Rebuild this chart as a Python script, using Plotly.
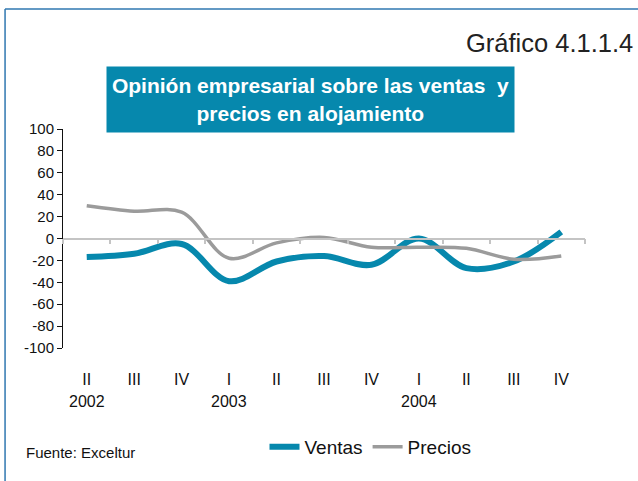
import plotly.graph_objects as go

quarters = ["II", "III", "IV", "I", "II", "III", "IV", "I", "II", "III", "IV"]
years = ["2002", "", "", "2003", "", "", "", "2004", "", "", ""]
ventas = [-17, -14, -5, -39, -21, -16, -24, 0, -27, -21, 6]
precios = [30, 25, 24, -18, -4, 1, -8, -8, -9, -19, -16]
y_ticks = [-100, -80, -60, -40, -20, 0, 20, 40, 60, 80, 100]

idx = list(range(len(quarters)))
bounds = [i - 0.5 for i in range(len(quarters) + 1)]
FONT = "Liberation Sans, Arial, Helvetica, sans-serif"

fig = go.Figure()
fig.add_trace(go.Scatter(x=idx, y=ventas, name="Ventas", mode="lines",
                         line=dict(color="#0688ad", width=6, shape="spline", smoothing=1.0)))
fig.add_trace(go.Scatter(x=idx, y=precios, name="Precios", mode="lines",
                         line=dict(color="#9b9b9b", width=3.5, shape="spline", smoothing=1.0)))
# invisible trace to anchor the zero-axis
fig.add_trace(go.Scatter(x=[bounds[0], bounds[-1]], y=[0, 0], xaxis="x2", mode="lines",
                         line=dict(width=0), showlegend=False, hoverinfo="skip"))

annotations = []
for i, yr in enumerate(years):
    if yr:
        annotations.append(dict(x=i, y=-0.245, xref="x", yref="paper", text=yr, showarrow=False,
                                font=dict(family=FONT, size=16, color="#111"), yanchor="middle"))
annotations.append(dict(x=1.096, y=1.393, xref="paper", yref="paper", text="Gráfico 4.1.1.4",
                        showarrow=False, xanchor="right", yanchor="middle",
                        font=dict(family=FONT, size=25.5, color="#222")))
annotations.append(dict(x=0.474, y=1.135, xref="paper", yref="paper",
                        text="<b>Opinión empresarial sobre las ventas  y<br>precios en alojamiento</b>",
                        showarrow=False, xanchor="center", yanchor="middle",
                        width=407, height=65, borderpad=0, bgcolor="#0688ad",
                        font=dict(family=FONT, size=21, color="white")))
annotations.append(dict(x=-0.075, y=-0.475, xref="paper", yref="paper", text="Fuente: Exceltur",
                        showarrow=False, xanchor="left", yanchor="middle",
                        font=dict(family=FONT, size=15, color="#111")))

shapes = [
    dict(type="line", xref="paper", yref="paper", x0=-0.111, x1=1.2, y0=1.548, y1=1.548,
         line=dict(color="#2f77b0", width=1.5)),
    dict(type="line", xref="paper", yref="paper", x0=-0.111, x1=-0.111, y0=1.548, y1=-0.7,
         line=dict(color="#2f77b0", width=1.5)),
]

fig.update_layout(
    width=638, height=481,
    margin=dict(l=63, r=53, t=129, b=133),
    paper_bgcolor="white", plot_bgcolor="white",
    font=dict(family=FONT, color="#111"),
    showlegend=True,
    legend=dict(orientation="h", x=0.386, y=-0.452, xanchor="left", yanchor="middle",
                font=dict(family=FONT, size=19, color="#111"), bgcolor="rgba(0,0,0,0)"),
    xaxis=dict(range=[bounds[0], bounds[-1]], tickvals=idx, ticktext=quarters,
               showline=False, ticks="", showgrid=False, zeroline=False,
               ticklabelstandoff=20, tickfont=dict(family=FONT, size=16, color="#111")),
    xaxis2=dict(range=[bounds[0], bounds[-1]], overlaying="x", anchor="free", position=0.5,
                side="bottom", tickvals=bounds, ticks="outside", ticklen=5, tickwidth=1.5,
                tickcolor="#c4c4c4", showline=True, linecolor="#c4c4c4", linewidth=1.5,
                showticklabels=False, showgrid=False, zeroline=False),
    yaxis=dict(range=[-100, 100], tickvals=y_ticks, ticktext=[str(v) for v in y_ticks],
               showline=True, linecolor="#111", linewidth=1,
               ticks="outside", ticklen=5, tickcolor="#111", showgrid=False, zeroline=False,
               tickfont=dict(family=FONT, size=15, color="#111")),
    annotations=annotations,
    shapes=shapes,
)

fig.write_html("out.html", config={"displayModeBar": False},
               post_script="document.body.style.margin='0';document.body.style.padding='0';")
